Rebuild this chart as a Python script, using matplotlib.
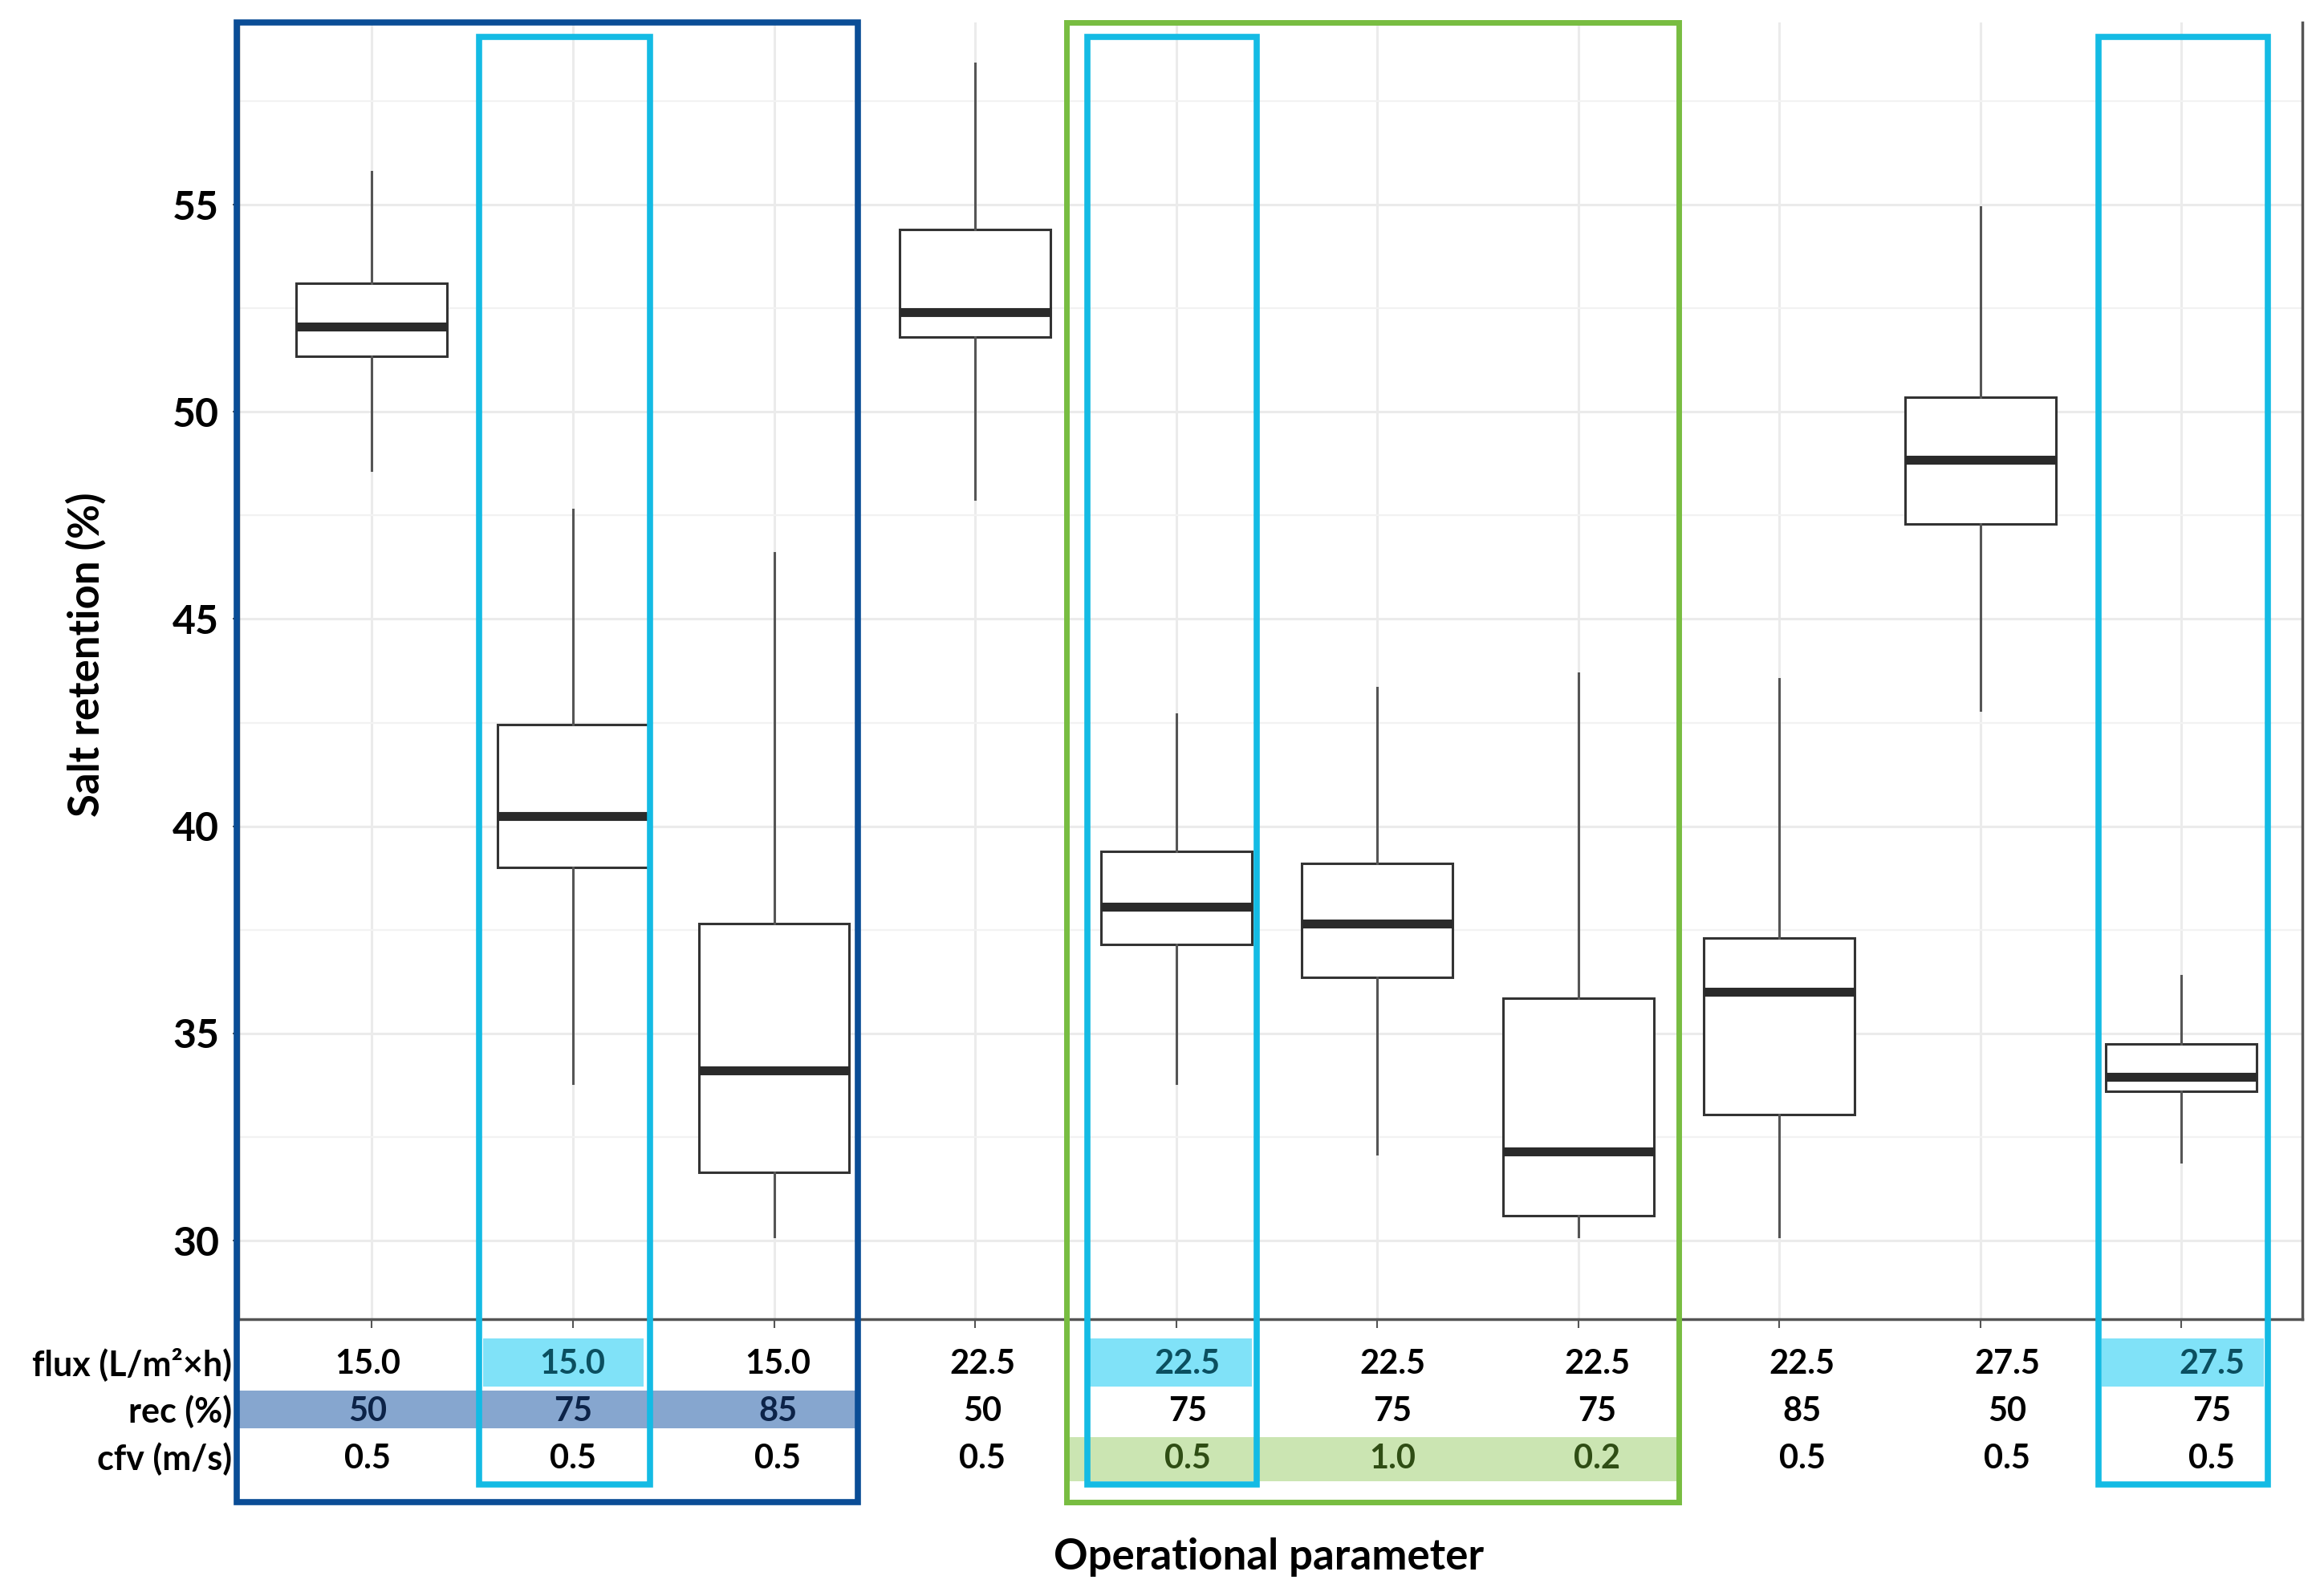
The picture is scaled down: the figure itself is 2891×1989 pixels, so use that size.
import numpy as np
import matplotlib
matplotlib.use("Agg")
import matplotlib.pyplot as plt
import matplotlib.transforms as mtransforms
from matplotlib.patches import Rectangle

plt.rcParams['font.family'] = ['Lato', 'DejaVu Sans']

# operational parameters per box
flux = ['15.0', '15.0', '15.0', '22.5', '22.5', '22.5', '22.5', '22.5', '27.5', '27.5']
rec = ['50', '75', '85', '50', '75', '75', '75', '85', '50', '75']
cfv = ['0.5', '0.5', '0.5', '0.5', '0.5', '1.0', '0.2', '0.5', '0.5', '0.5']

# box statistics (salt retention, %)
whislo = [48.6, 33.8, 30.1, 47.9, 33.8, 32.1, 30.1, 30.1, 42.8, 31.9]
q1 = [51.35, 39.0, 31.65, 51.8, 37.15, 36.35, 30.6, 33.05, 47.3, 33.6]
med = [52.05, 40.25, 34.1, 52.4, 38.05, 37.65, 32.15, 36.0, 48.85, 33.95]
q3 = [53.1, 42.45, 37.65, 54.4, 39.4, 39.1, 35.85, 37.3, 50.35, 34.75]
whishi = [55.8, 47.65, 46.6, 58.4, 42.7, 43.35, 43.7, 43.55, 54.95, 36.4]

W, H = 1560.0, 1073.0  # working units (reference scale)

fig = plt.figure(figsize=(28.91, 19.89), dpi=100)
ax = fig.add_axes([160 / W, 1 - 887 / H, (1548 - 160) / W, (887 - 15) / H])

stats = []
for i in range(len(med)):
    stats.append(dict(med=med[i], q1=q1[i], q3=q3[i], whislo=whislo[i],
                      whishi=whishi[i], fliers=[]))

ax.bxp(stats, positions=np.arange(len(stats)), widths=0.75, showcaps=False,
       showfliers=False, patch_artist=True,
       boxprops=dict(facecolor='white', edgecolor='#333333', linewidth=2.2),
       whiskerprops=dict(color='#555555', linewidth=2.2),
       medianprops=dict(color='#2a2a2a', linewidth=8, solid_capstyle='butt'))

ax.set_xlim(-0.666, 9.6)
ax.set_ylim(28.1, 59.4)
ax.set_yticks([30, 35, 40, 45, 50, 55])
ax.set_yticks(np.arange(32.5, 59, 5), minor=True)
ax.set_xticks(np.arange(len(stats)))
ax.set_xticklabels([])
ax.grid(True, which='major', color='#ebebeb', linewidth=2.2)
ax.grid(True, which='minor', axis='y', color='#f2f2f2', linewidth=1.6)
ax.set_axisbelow(True)
ax.tick_params(axis='y', which='major', length=5, width=1.5, color='#555555',
               labelsize=36, pad=12)
ax.tick_params(axis='y', which='minor', length=0)
ax.tick_params(axis='x', length=8, width=1.5, color='#555555')
for lab in ax.get_yticklabels():
    lab.set_fontweight('bold')
ax.spines['top'].set_visible(False)
for s in ['left', 'bottom', 'right']:
    ax.spines[s].set_color('#555555')
    ax.spines[s].set_linewidth(2.5)


def frect(x0, x1, y0, y1, **kw):
    r = Rectangle((x0 / W, 1 - y1 / H), (x1 - x0) / W, (y1 - y0) / H,
                  transform=fig.transFigure, **kw)
    fig.add_artist(r)


# highlight fills behind the parameter table
for x0, x1 in [(325, 433), (733, 842), (1413, 1522)]:
    frect(x0, x1, 900, 932, facecolor='#80e2f8', edgecolor='none', zorder=-1)
frect(160, 575, 935, 960, facecolor='#86a6cf', edgecolor='none', zorder=-1)
frect(717, 1128, 966, 996, facecolor='#cbe5b2', edgecolor='none', zorder=-1)

# parameter table under the axis
trans = mtransforms.blended_transform_factory(ax.transData, fig.transFigure)
row_y = [1 - 917 / H, 1 - 949 / H, 1 - 981 / H]
row_names = ['flux (L/m²×h)', 'rec (%)', 'cfv (m/s)']
rows = [flux, rec, cfv]
colors = [
    ['black', '#0b4f60', 'black', 'black', '#0b4f60', 'black', 'black', 'black', 'black', '#0b4f60'],
    ['#0c2348', '#0c2348', '#0c2348', 'black', 'black', 'black', 'black', 'black', 'black', 'black'],
    ['black', 'black', 'black', 'black', '#2f4d14', '#2f4d14', '#2f4d14', 'black', 'black', 'black'],
]
for r, (vals, y) in enumerate(zip(rows, row_y)):
    fig.text(156 / W, y, row_names[r], ha='right', va='center', fontsize=31,
             fontweight='bold')
    for i, v in enumerate(vals):
        ax.text(i * 1.019 - 0.02, y, v, transform=trans, ha='center', va='center',
                fontsize=30, fontweight='bold', color=colors[r][i], clip_on=False)

fig.text(58 / W, 1 - 440 / H, 'Salt retention (%)', rotation=90, ha='center',
         va='center', fontsize=38, fontweight='bold')
fig.text(853 / W, 1 - 1047 / H, 'Operational parameter', ha='center', va='center',
         fontsize=38, fontweight='bold')

# group outlines
frect(159, 577, 15, 1010, facecolor='none', edgecolor='#0a4d96', linewidth=5.5, zorder=5)
frect(717, 1129, 15, 1010, facecolor='none', edgecolor='#78bd41', linewidth=5, zorder=5)
for x0, x1 in [(322, 437), (731, 845), (1411, 1525)]:
    frect(x0, x1, 25, 998, facecolor='none', edgecolor='#14bbe4', linewidth=5.5, zorder=6)

fig.savefig('out.png', dpi=100, facecolor='white')
